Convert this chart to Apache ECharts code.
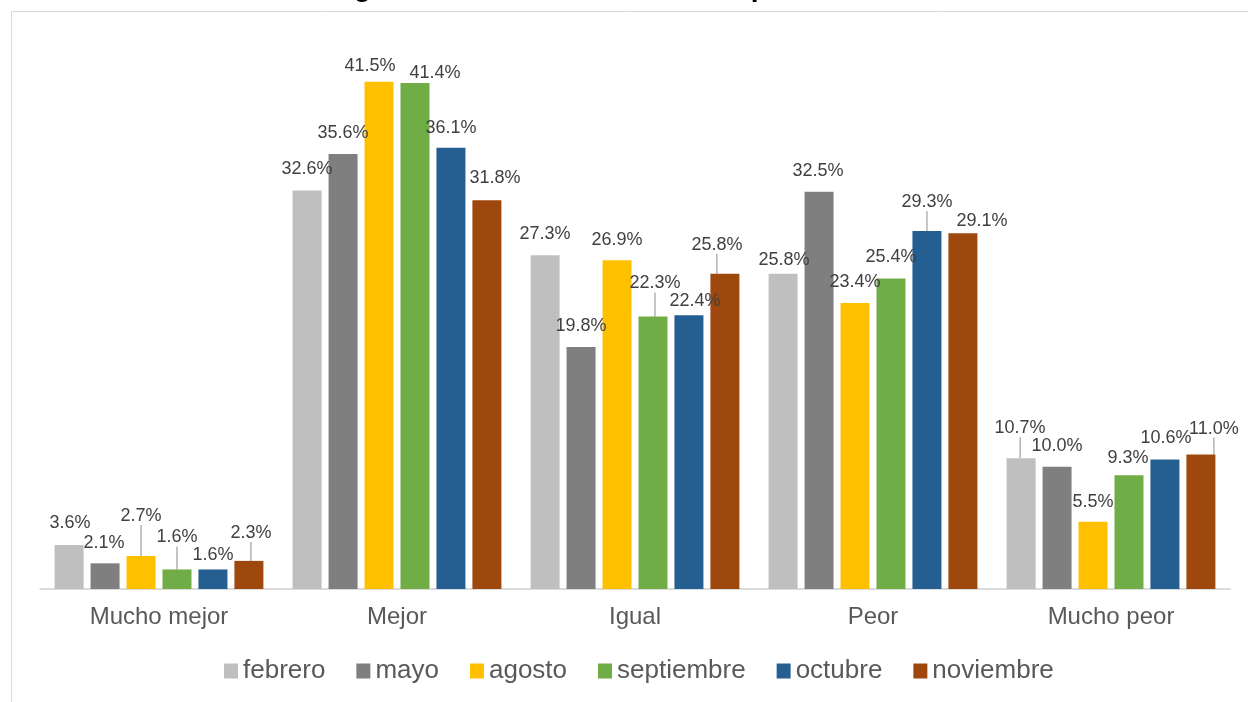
<!DOCTYPE html>
<html>
<head>
<meta charset="utf-8">
<script src="https://cdn.jsdelivr.net/npm/echarts@6/dist/echarts.min.js"></script>
<style>
html,body{margin:0;padding:0;background:#fff;}
#chart{width:1248px;height:702px;}
</style>
</head>
<body>
<div id="chart"></div>
<script>
const titleText = 'su hogar dentro de doce meses respecto a la actual';
const categories = ['Mucho mejor', 'Mejor', 'Igual', 'Peor', 'Mucho peor'];
const seriesNames = ['febrero', 'mayo', 'agosto', 'septiembre', 'octubre', 'noviembre'];
const febrero    = [3.6, 32.6, 27.3, 25.8, 10.7];
const mayo       = [2.1, 35.6, 19.8, 32.5, 10.0];
const agosto     = [2.7, 41.5, 26.9, 23.4, 5.5];
const septiembre = [1.6, 41.4, 22.3, 25.4, 9.3];
const octubre    = [1.6, 36.1, 22.4, 29.3, 10.6];
const noviembre  = [2.3, 31.8, 25.8, 29.1, 11.0];
const seriesValues = [febrero, mayo, agosto, septiembre, octubre, noviembre];

// styling: colours, label nudges (dx, dy) and which labels get a leader line
const colors = ['#BFBFBF', '#7F7F7F', '#FFC000', '#70AD47', '#255E91', '#9E480E'];
const labelNudge = [
  [[1,-8],[0,-8],[0,-7],[1,0],[-1,-16]],
  [[-1,-6],[0,-7],[0,-7],[-1,-7],[0,-7]],
  [[0,-26],[-9,-2],[0,-6],[0,-7],[0,-6]],
  [[0,-18],[20,4],[2,-19],[0,-8],[-1,-3]],
  [[0,0],[0,-6],[6,0],[0,-15],[1,-7]],
  [[2,-14],[8,-8],[-8,-15],[19,2],[13,-12]]
];
const leader = [
  [false,false,false,false,true],
  [false,false,false,false,false],
  [true,false,false,false,false],
  [true,false,true,false,false],
  [false,false,false,true,false],
  [true,false,true,false,true]
];

const FONT = "'Liberation Sans', Arial, sans-serif";
const chart = echarts.init(document.getElementById('chart'), null, {renderer: 'canvas'});

const series = seriesNames.map((name, si) => ({
  name: name,
  type: 'bar',
  barWidth: 29,
  barGap: '24%',
  itemStyle: {color: colors[si]},
  label: {
    show: true,
    position: 'top',
    distance: 5,
    fontSize: 18,
    fontFamily: FONT,
    color: '#404040',
    formatter: p => p.value.toFixed(1) + '%'
  },
  labelLine: {show: false, lineStyle: {color: '#A6A6A6', width: 1.3}},
  labelLayout: p => {
    const n = labelNudge[p.seriesIndex][p.dataIndex];
    return {dx: n[0], dy: n[1]};
  },
  data: seriesValues[si].map((v, ci) => ({
    value: v,
    labelLine: {show: leader[si][ci]}
  }))
}));

chart.setOption({
  animation: false,
  backgroundColor: '#fff',
  title: {
    text: titleText,
    left: 'center',
    top: -26,
    padding: 0,
    textStyle: {fontSize: 28, fontWeight: 'bold', fontFamily: FONT, color: '#000'}
  },
  graphic: [{
    type: 'rect',
    shape: {x: 11.5, y: 11.5, width: 1400, height: 900},
    style: {fill: 'none', stroke: '#D9D9D9', lineWidth: 1},
    silent: true,
    z: -10
  }],
  legend: {
    data: seriesNames,
    left: 224,
    top: 658,
    padding: 0,
    itemWidth: 14,
    itemHeight: 15,
    itemGap: 31,
    icon: 'rect',
    textStyle: {fontSize: 26, fontFamily: FONT, color: '#595959'}
  },
  grid: {left: 40, right: 18, top: 39, bottom: 113, containLabel: false},
  xAxis: {
    type: 'category',
    data: categories,
    axisLine: {show: true, lineStyle: {color: '#D0D0D0', width: 1.5}},
    axisTick: {show: false},
    axisLabel: {fontSize: 24, fontFamily: FONT, color: '#595959', margin: 16}
  },
  yAxis: {
    type: 'value',
    min: 0,
    max: 45,
    show: false,
    splitLine: {show: false}
  },
  series: series
});
</script>
</body>
</html>
